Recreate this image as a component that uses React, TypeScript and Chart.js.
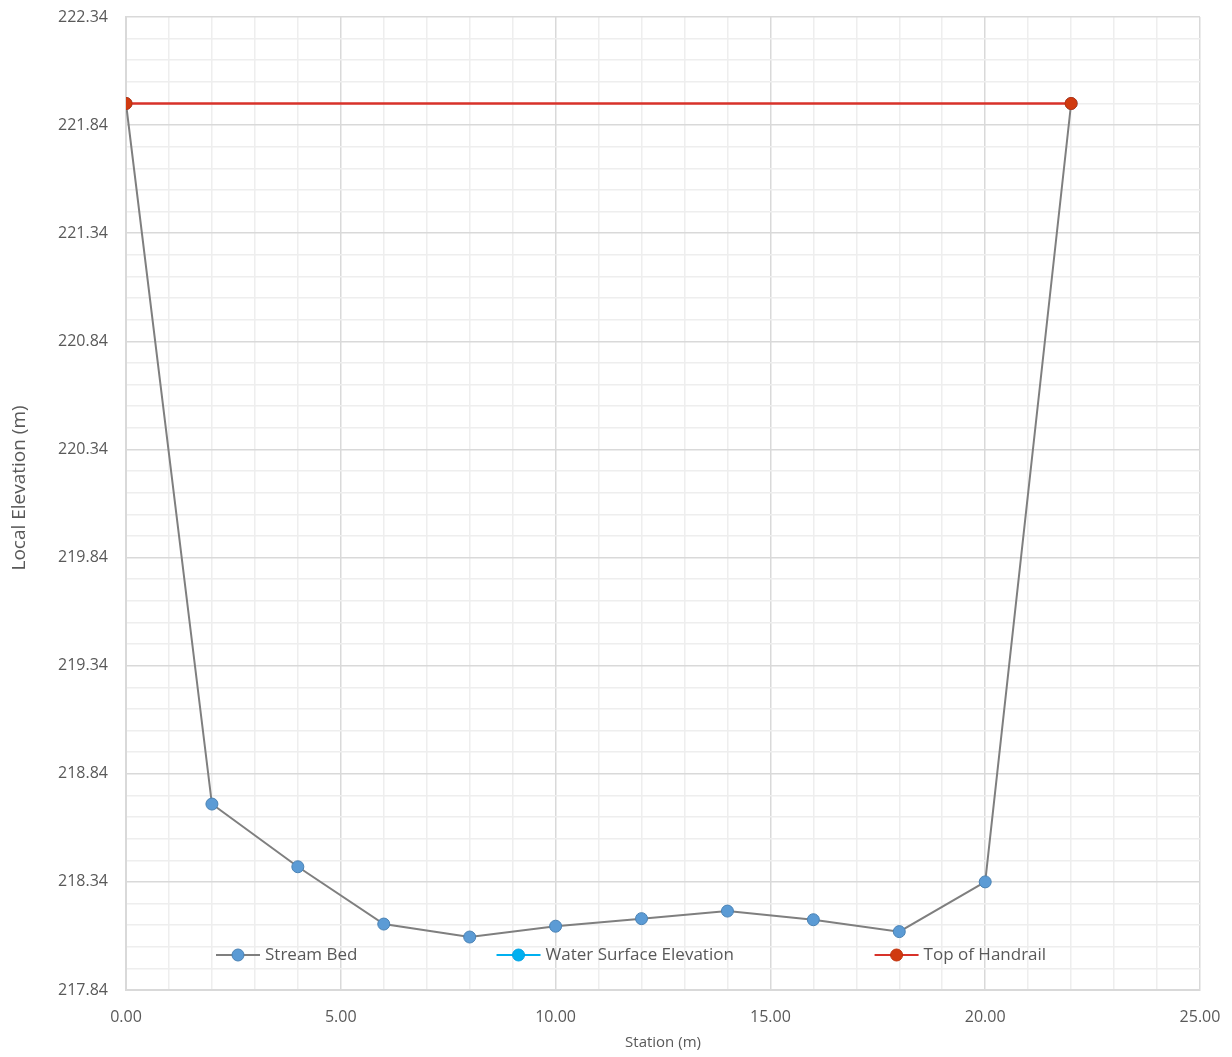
import React, { useEffect, useRef } from "react";
import { Chart, registerables } from "chart.js";

Chart.register(...registerables);

const stations = [0, 2, 4, 6, 8, 10, 12, 14, 16, 18, 20, 22];
const streamBed = [221.94, 218.7, 218.41, 218.145, 218.085, 218.135, 218.17, 218.205, 218.165, 218.11, 218.34, 221.94];
const waterSurface: number[] = [];
const handrailStations = [0, 22];
const handrailElev = [221.94, 221.94];

const seriesNames = ["Stream Bed", "Water Surface Elevation", "Top of Handrail"];
const yTitle = "Local Elevation (m)";
const xTitle = "Station (m)";
const lineColors = ["#7f7f7f", "#00b0f0", "#d8322a"];
const markerColors = ["#5b9bd5", "#00b0f0", "#d03a10"];
const markerBorders = ["#4a82b4", "#00a0e0", "#c0300a"];

const yMin = 217.84;
const yMax = 222.34;
const xMin = 0;
const xMax = 25;

const FONT = "'Open Sans', 'Noto Sans', sans-serif";
const TXT = "#595959";

const legendPlugin = {
  id: "insideLegend",
  afterDraw(chart: any) {
    const { ctx, chartArea } = chart;
    const fr = [0.0838, 0.345, 0.697];
    const y = chartArea.bottom - 35;
    ctx.save();
    ctx.font = `17px ${FONT}`;
    ctx.textBaseline = "middle";
    ctx.textAlign = "left";
    seriesNames.forEach((name, i) => {
      const x0 = chartArea.left + fr[i] * (chartArea.right - chartArea.left);
      ctx.strokeStyle = lineColors[i];
      ctx.lineWidth = 2;
      ctx.beginPath();
      ctx.moveTo(x0, y);
      ctx.lineTo(x0 + 44, y);
      ctx.stroke();
      ctx.beginPath();
      ctx.arc(x0 + 22, y, 6, 0, Math.PI * 2);
      ctx.fillStyle = markerColors[i];
      ctx.fill();
      ctx.lineWidth = 1;
      ctx.strokeStyle = markerBorders[i];
      ctx.stroke();
      ctx.fillStyle = TXT;
      ctx.fillText(name, x0 + 49, y);
    });
    // y axis title, positioned as in the reference (slightly above plot centre)
    const cy = chartArea.top + (chartArea.bottom - chartArea.top) * 0.484;
    ctx.translate(20, cy);
    ctx.rotate(-Math.PI / 2);
    ctx.textAlign = "center";
    ctx.font = `19px ${FONT}`;
    ctx.fillText(yTitle, 0, 0);
    ctx.restore();
  },
};

export default function App() {
  const ref = useRef<HTMLCanvasElement>(null);
  useEffect(() => {
    if (!ref.current) return;
    const chart = new Chart(ref.current, {
      type: "scatter",
      data: {
        datasets: [
          {
            label: seriesNames[0],
            order: 2,
            data: stations.map((x, i) => ({ x, y: streamBed[i] })),
            showLine: true,
            borderColor: lineColors[0],
            borderWidth: 2,
            backgroundColor: markerColors[0],
            pointBorderColor: markerBorders[0],
            pointBorderWidth: 1,
            pointRadius: 6,
          },
          {
            label: seriesNames[1],
            order: 1,
            data: waterSurface.map((y, i) => ({ x: stations[i], y })),
            showLine: true,
            borderColor: lineColors[1],
            borderWidth: 2,
            backgroundColor: markerColors[1],
            pointRadius: 6,
          },
          {
            label: seriesNames[2],
            order: 0,
            data: handrailStations.map((x, i) => ({ x, y: handrailElev[i] })),
            showLine: true,
            borderColor: lineColors[2],
            borderWidth: 2.5,
            backgroundColor: markerColors[2],
            pointBorderColor: markerBorders[2],
            pointBorderWidth: 1,
            pointRadius: 6,
          },
        ],
      },
      options: {
        animation: false,
        responsive: false,
        maintainAspectRatio: false,
        layout: { padding: { left: 0, top: 17, right: 32, bottom: 0 } },
        plugins: { legend: { display: false }, tooltip: { enabled: false } },
        scales: {
          x: {
            type: "linear",
            min: xMin,
            max: xMax,
            ticks: {
              stepSize: 1,
              autoSkip: false,
              maxRotation: 0,
              padding: 18,
              color: TXT,
              font: { family: FONT, size: 16 },
              callback: (v: any) => (Number(v) % 5 === 0 ? Number(v).toFixed(2) : ""),
            },
            grid: {
              drawTicks: false,
              color: (c: any) => (c.tick && Math.round(c.tick.value) % 5 === 0 ? "#d9d9d9" : "#eeeeee"),
              lineWidth: 1.5,
            },
            border: { color: "#d9d9d9", width: 2 },
            title: {
              display: true,
              text: xTitle,
              color: TXT,
              font: { family: FONT, size: 15 },
              padding: { top: 0, bottom: 5 },
            },
            afterFit: (s: any) => {
              s.height = 67;
              s.paddingLeft = 0;
              s.paddingRight = 0;
            },
          },
          y: {
            type: "linear",
            min: yMin,
            max: yMax,
            afterBuildTicks: (s: any) => {
              const t = [];
              for (let i = 0; i <= 45; i++) t.push({ value: +(yMin + i * 0.1).toFixed(2) });
              s.ticks = t;
            },
            ticks: {
              autoSkip: false,
              padding: 18,
              color: TXT,
              font: { family: FONT, size: 16 },
              callback: (v: any, i: number) => (i % 5 === 0 ? Number(v).toFixed(2) : ""),
            },
            grid: {
              drawTicks: false,
              color: (c: any) => (c.index % 5 === 0 ? "#d9d9d9" : "#eeeeee"),
              lineWidth: 1.5,
            },
            border: { color: "#d9d9d9", width: 2 },
            title: { display: false },
            afterFit: (s: any) => {
              s.width = 126;
              s.paddingTop = 0;
              s.paddingBottom = 0;
            },
          },
        },
      },
      plugins: [legendPlugin],
    } as any);
    return () => chart.destroy();
  }, []);
  return (
    <div style={{ position: "fixed", left: 0, top: 0, width: 1232, height: 1057, background: "#fff" }}>
      <canvas ref={ref} width={1232} height={1057} style={{ width: 1232, height: 1057 }} />
    </div>
  );
}
